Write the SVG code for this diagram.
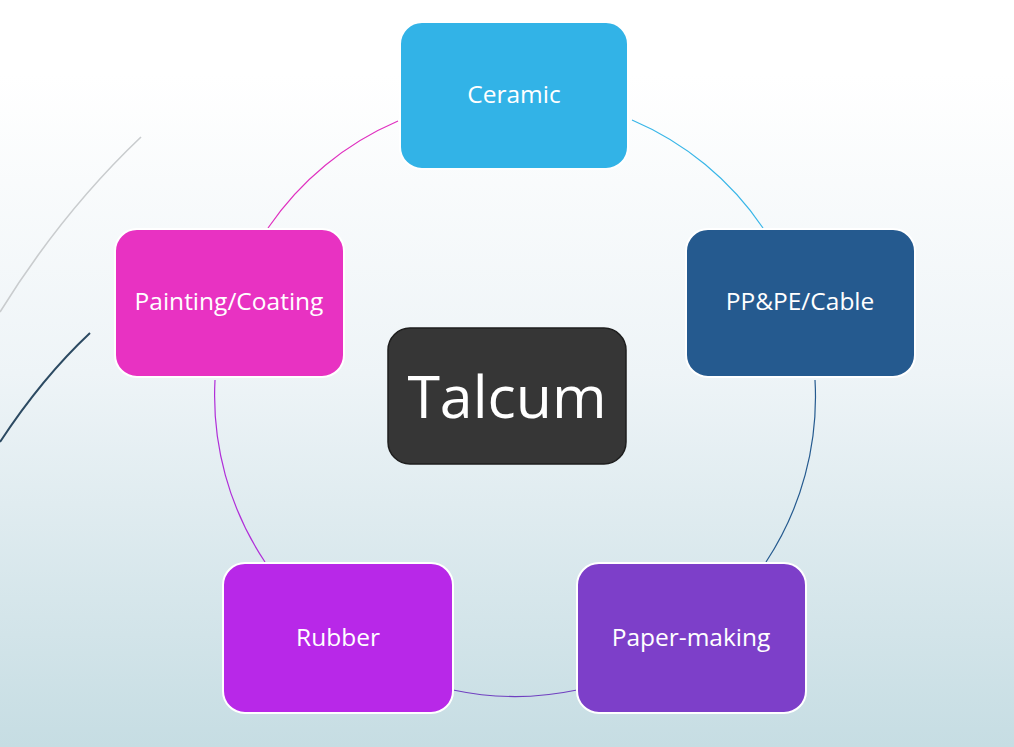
<svg xmlns="http://www.w3.org/2000/svg" width="1014" height="747" viewBox="0 0 1014 747">
  <defs>
    <linearGradient id="bg" x1="0" y1="0" x2="0" y2="1">
      <stop offset="0" stop-color="#FFFFFF"/>
      <stop offset="0.1" stop-color="#FFFFFF"/>
      <stop offset="0.5" stop-color="#EEF4F7"/>
      <stop offset="1" stop-color="#C6DDE3"/>
    </linearGradient>
    <style>
      .box { stroke: #FFFFFF; stroke-width: 2; }
      .lbl { font-family: "Open Sans", "Liberation Sans", sans-serif; font-size: 24.5px; fill: #FFFFFF; text-anchor: middle; }
      .arc { fill: none; stroke-width: 1.2; }
    </style>
  </defs>
  <rect x="0" y="0" width="1014" height="747" fill="url(#bg)"/>
  <g id="decor">
    <path d="M141,137 Q62,212 0,312" fill="none" stroke="#C9CCCE" stroke-width="1.6"/>
    <path d="M90,333 Q42,378 0,442" fill="none" stroke="#2C4A62" stroke-width="2"/>
  </g>
  <g id="connectors">
    <path class="arc" stroke="#38B6E8" d="M632,120 A300,300 0 0 1 763,228"/>
    <path class="arc" stroke="#255A8F" d="M815,380 A300,300 0 0 1 766,562"/>
    <path class="arc" stroke="#7040C0" d="M577,690 A300,300 0 0 1 453,690"/>
    <path class="arc" stroke="#B02ED8" d="M265,562 A300,300 0 0 1 215,380"/>
    <path class="arc" stroke="#E030C0" d="M268,228 A300,300 0 0 1 398,121"/>
  </g>
  <g id="ceramic">
    <rect class="box" x="400" y="22" width="228" height="147" rx="22" fill="#32B3E7"/>
    <text class="lbl" x="514" y="103">Ceramic</text>
  </g>
  <g id="ppcable">
    <rect class="box" x="686" y="229" width="229" height="148" rx="22" fill="#255A8F"/>
    <text class="lbl" x="800" y="310">PP&amp;PE/Cable</text>
  </g>
  <g id="paper">
    <rect class="box" x="577" y="563" width="229" height="150" rx="22" fill="#7D3FC9"/>
    <text class="lbl" x="691" y="646">Paper-making</text>
  </g>
  <g id="rubber">
    <rect class="box" x="223" y="563" width="230" height="150" rx="22" fill="#B828E8"/>
    <text class="lbl" x="338" y="646">Rubber</text>
  </g>
  <g id="painting">
    <rect class="box" x="115" y="229" width="229" height="148" rx="22" fill="#E832C2"/>
    <text class="lbl" x="229" y="310">Painting/Coating</text>
  </g>
  <g id="talcum">
    <rect x="388" y="328" width="238" height="136" rx="22" fill="#363636" stroke="#1E1E1E" stroke-width="1.5"/>
    <text x="507" y="418" font-family="Open Sans, Liberation Sans, sans-serif" font-size="59" fill="#FFFFFF" text-anchor="middle">Talcum</text>
  </g>
</svg>
